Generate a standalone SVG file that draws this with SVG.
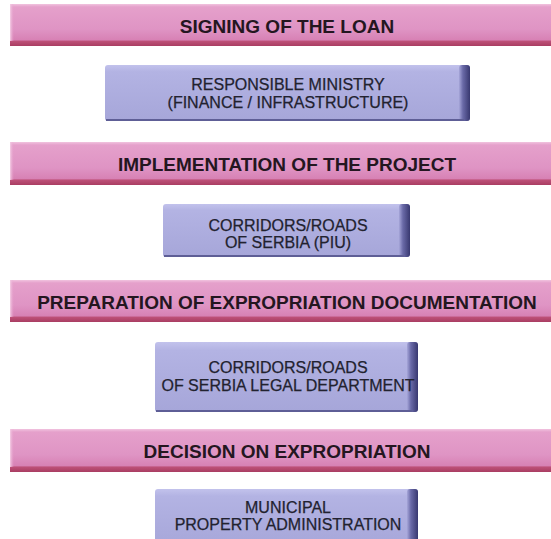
<svg xmlns="http://www.w3.org/2000/svg" width="551" height="539" viewBox="0 0 551 539">
  <defs>
    <!-- pink stage bar: light top rim, body, dark red lower lip -->
    <linearGradient id="barFill" x1="0" y1="0" x2="0" y2="1">
      <stop offset="0" stop-color="#F1C3DF"/>
      <stop offset="0.07" stop-color="#E5A0CB"/>
      <stop offset="0.6" stop-color="#DF94C4"/>
      <stop offset="0.86" stop-color="#D781B4"/>
      <stop offset="0.88" stop-color="#BE5179"/>
      <stop offset="1" stop-color="#A93D62"/>
    </linearGradient>
    <linearGradient id="barLeft" x1="0" y1="0" x2="1" y2="0">
      <stop offset="0" stop-color="#F4CFE6"/>
      <stop offset="1" stop-color="#E6A3CD" stop-opacity="0"/>
    </linearGradient>
    <!-- lavender actor box -->
    <linearGradient id="boxFill" x1="0" y1="0" x2="0" y2="1">
      <stop offset="0" stop-color="#C2C2EC"/>
      <stop offset="0.12" stop-color="#B3B3E3"/>
      <stop offset="1" stop-color="#A6A6D9"/>
    </linearGradient>
    <linearGradient id="boxEdge" x1="0" y1="0" x2="1" y2="0">
      <stop offset="0" stop-color="#A6A6D9"/>
      <stop offset="0.35" stop-color="#6A6AA8"/>
      <stop offset="1" stop-color="#383870"/>
    </linearGradient>
    <style>
      .bar { fill: url(#barFill); }
      .barLeft { fill: url(#barLeft); }
      .box { fill: url(#boxFill); }
      .edge { fill: url(#boxEdge); }
      .lip { fill: #5E5E96; }
      .barText { font-family: "Liberation Sans", Arial, sans-serif; font-weight: bold; font-size: 19px; fill: #241620; text-anchor: middle; }
      .boxText { font-family: "Liberation Sans", Arial, sans-serif; font-size: 16px; fill: #22222F; stroke: #22222F; stroke-width: 0.25; text-anchor: middle; }
    </style>
  </defs>

  <rect width="551" height="539" fill="#FFFFFF"/>

  <!-- stage 1 -->
  <g id="stage-signing">
    <rect class="bar" x="10" y="4" width="545" height="42"/>
    <rect class="barLeft" x="10" y="4" width="4" height="37"/>
    <text class="barText" x="287" y="33">SIGNING OF THE LOAN</text>
  </g>
  <g id="actor-ministry">
    <rect class="box" x="105" y="65" width="365" height="56" rx="3"/>
    <rect class="edge" x="459" y="65" width="11" height="56" rx="3"/>
    <rect class="lip" x="106" y="119" width="358" height="2"/>
    <text class="boxText" x="288" y="90">RESPONSIBLE MINISTRY</text>
    <text class="boxText" x="288" y="107.5">(FINANCE / INFRASTRUCTURE)</text>
  </g>

  <!-- stage 2 -->
  <g id="stage-implementation">
    <rect class="bar" x="10" y="142" width="545" height="43"/>
    <rect class="barLeft" x="10" y="142" width="4" height="38"/>
    <text class="barText" x="287" y="171">IMPLEMENTATION OF THE PROJECT</text>
  </g>
  <g id="actor-piu">
    <rect class="box" x="163" y="204" width="247" height="53" rx="3"/>
    <rect class="edge" x="399" y="204" width="11" height="53" rx="3"/>
    <rect class="lip" x="164" y="255" width="240" height="2"/>
    <text class="boxText" x="288" y="231">CORRIDORS/ROADS</text>
    <text class="boxText" x="288" y="248">OF SERBIA (PIU)</text>
  </g>

  <!-- stage 3 -->
  <g id="stage-preparation">
    <rect class="bar" x="10" y="280" width="545" height="42"/>
    <rect class="barLeft" x="10" y="280" width="4" height="37"/>
    <text class="barText" x="287" y="309">PREPARATION OF EXPROPRIATION DOCUMENTATION</text>
  </g>
  <g id="actor-legal">
    <rect class="box" x="155" y="342" width="263" height="70" rx="3"/>
    <rect class="edge" x="407" y="342" width="11" height="70" rx="3"/>
    <rect class="lip" x="156" y="410" width="256" height="2"/>
    <text class="boxText" x="288" y="373">CORRIDORS/ROADS</text>
    <text class="boxText" x="288" y="391">OF SERBIA LEGAL DEPARTMENT</text>
  </g>

  <!-- stage 4 -->
  <g id="stage-decision">
    <rect class="bar" x="10" y="429" width="545" height="43"/>
    <rect class="barLeft" x="10" y="429" width="4" height="38"/>
    <text class="barText" x="287" y="458">DECISION ON EXPROPRIATION</text>
  </g>
  <g id="actor-municipal">
    <rect class="box" x="155" y="489" width="263" height="60" rx="3"/>
    <rect class="edge" x="407" y="489" width="11" height="60" rx="3"/>
    <text class="boxText" x="288" y="513">MUNICIPAL</text>
    <text class="boxText" x="288" y="530">PROPERTY ADMINISTRATION</text>
  </g>
</svg>
